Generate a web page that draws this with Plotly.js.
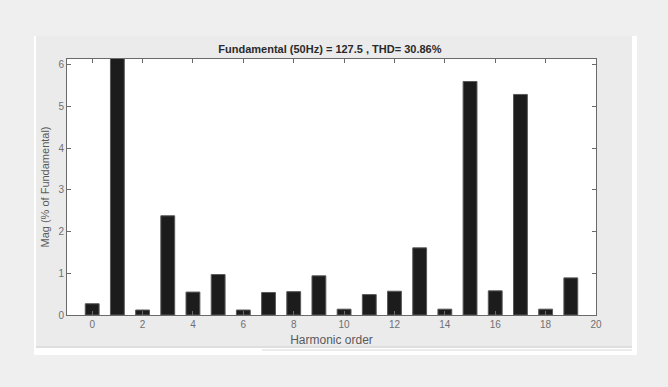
<!DOCTYPE html>
<html>
<head>
<meta charset="utf-8">
<script src="https://cdn.plot.ly/plotly-3.0.1.min.js"></script>
<style>html,body{margin:0;padding:0;background:#efefef;}#chart{width:668px;height:387px;}</style>
</head>
<body>
<div id="chart"></div>
<script>
// Harmonic orders and magnitudes (% of fundamental)
const harmonicOrder = [0,1,2,3,4,5,6,7,8,9,10,11,12,13,14,15,16,17,18,19];
const magnitude = [0.27,100,0.12,2.38,0.55,0.97,0.12,0.54,0.56,0.94,0.14,0.49,0.57,1.61,0.14,5.60,0.58,5.29,0.14,0.89];
const xTickVals = [0,2,4,6,8,10,12,14,16,18,20];
const yTickVals = [0,1,2,3,4,5,6];
const chartTitle = "Fundamental (50Hz) = 127.5 , THD= 30.86%";
const xTitle = "Harmonic order";
const yTitle = "Mag (% of Fundamental)";

const W = 668, H = 387;
const py = (v) => 1 - v / H;

const trace = {
  type: 'bar',
  x: harmonicOrder,
  y: magnitude,
  width: 0.55,
  marker: {color: '#1c1c1c', line: {color: '#5a5a5a', width: 1}},
  hoverinfo: 'x+y'
};

const axisCommon = {
  showgrid: false,
  zeroline: false,
  showline: true,
  linecolor: '#6a6a6a',
  linewidth: 1,
  mirror: 'ticks',
  ticks: 'inside',
  ticklen: 4,
  tickcolor: '#6a6a6a',
  tickfont: {family: 'Liberation Sans, Arial, sans-serif', size: 10, color: '#707070'}
};

const layout = {
  width: W, height: H,
  paper_bgcolor: '#efefef',
  plot_bgcolor: '#ffffff',
  margin: {l: 67, r: 72, t: 59, b: 72, pad: 0},
  showlegend: false,
  bargap: 0,
  title: {
    text: '<b>' + chartTitle + '</b>',
    font: {family: 'Liberation Sans Narrow, Arial Narrow, sans-serif', size: 11, color: '#2a2a2a'},
    x: 0.497, xanchor: 'center', xref: 'paper',
    y: py(49), yanchor: 'middle', yref: 'container'
  },
  xaxis: Object.assign({}, axisCommon, {
    range: [-1, 20],
    tickvals: xTickVals,
    ticktext: xTickVals.map(String),
    title: {text: xTitle, font: {family: 'Liberation Sans Narrow, Arial Narrow, sans-serif', size: 12, color: '#5a5a5a'}, standoff: 6}
  }),
  yaxis: Object.assign({}, axisCommon, {
    range: [0, 6.14],
    tickvals: yTickVals,
    ticktext: yTickVals.map(String),
    title: {text: yTitle, font: {family: 'Liberation Sans, Arial, sans-serif', size: 11, color: '#5a5a5a'}, standoff: 6}
  }),
  shapes: [
    {type: 'rect', xref: 'paper', yref: 'paper', layer: 'below',
     x0: (34-67)/529, x1: (637-67)/529, y0: (315-355)/256, y1: (315-36)/256,
     fillcolor: '#ffffff', line: {width: 0}},
    {type: 'rect', xref: 'paper', yref: 'paper', layer: 'below',
     x0: (36-67)/529, x1: (632-67)/529, y0: (315-348)/256, y1: (315-36)/256,
     fillcolor: '#ebebec', line: {width: 0}},
    {type: 'line', xref: 'paper', yref: 'paper', layer: 'below',
     x0: (36-67)/529, x1: (632-67)/529, y0: (315-347)/256, y1: (315-347)/256,
     line: {color: '#d2d2d2', width: 1}},
    {type: 'line', xref: 'paper', yref: 'paper', layer: 'below',
     x0: (262-67)/529, x1: (632-67)/529, y0: (315-350)/256, y1: (315-350)/256,
     line: {color: '#d8d8d8', width: 1}},
    {type: 'rect', xref: 'paper', yref: 'paper', layer: 'below',
     x0: 0, x1: 1, y0: 0, y1: 1,
     fillcolor: '#ffffff', line: {width: 0}}
  ]
};

Plotly.newPlot('chart', [trace], layout, {displayModeBar: false, staticPlot: true});
</script>
</body>
</html>
